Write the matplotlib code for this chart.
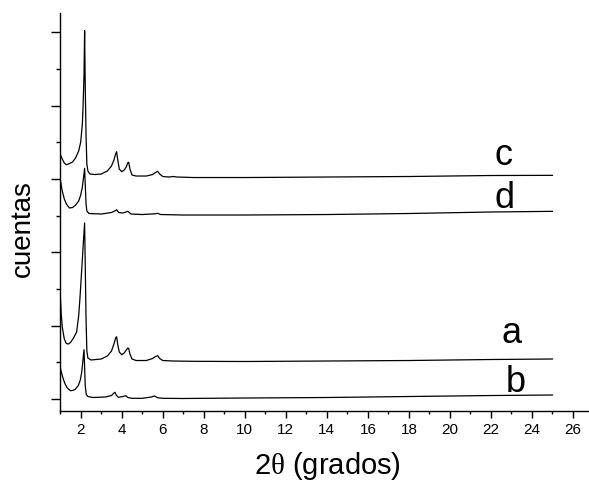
import matplotlib
matplotlib.use("Agg")
import matplotlib.pyplot as plt
from matplotlib.ticker import MultipleLocator, NullFormatter

plt.rcParams["font.family"] = ["Liberation Sans", "DejaVu Sans"]
plt.rcParams["mathtext.fontset"] = "custom"
plt.rcParams["mathtext.rm"] = "Liberation Serif"

# difractogramas (2theta, cuentas) con desplazamiento vertical
c_x = [1.0, 1.1, 1.2, 1.3, 1.45, 1.6, 1.75, 1.9, 2.0, 2.08, 2.11, 2.16, 2.19,
       2.22, 2.26, 2.3, 2.35, 2.45, 2.7, 3.0, 3.3, 3.5, 3.62, 3.7, 3.75, 3.8,
       3.88, 4.0, 4.12, 4.22, 4.3, 4.34, 4.4, 4.5, 4.7, 5.2, 5.5, 5.65, 5.75,
       5.85, 6.0, 6.3, 6.5, 6.7, 7.5, 10, 14, 18, 22, 25]
c_y = [6681, 6545, 6436, 6389, 6422, 6463, 6572, 6763, 7008, 7499, 7908, 8808, 10044,
       8544, 7181, 6408, 6218, 6136, 6122, 6136, 6218, 6354, 6518, 6681, 6744, 6545,
       6272, 6199, 6245, 6327, 6450, 6455, 6272, 6109, 6081, 6081, 6122, 6177, 6209,
       6136, 6068, 6054, 6068, 6054, 6040, 6040, 6054, 6068, 6095, 6100]

d_x = [1.0, 1.1, 1.2, 1.3, 1.45, 1.6, 1.75, 1.9, 2.0, 2.08, 2.14, 2.19, 2.22,
       2.26, 2.3, 2.4, 3.0, 3.5, 3.7, 3.75, 3.85, 4.05, 4.3, 4.45, 5.0, 5.6,
       5.75, 5.9, 7, 10, 14, 18, 22, 25]
d_y = [5999, 5672, 5454, 5318, 5209, 5222, 5290, 5399, 5563, 5781, 6054, 6291, 5863,
       5318, 5127, 5059, 5045, 5086, 5140, 5162, 5086, 5072, 5118, 5045, 5031, 5050,
       5063, 5031, 5018, 5018, 5031, 5059, 5100, 5118]

a_x = [1.0, 1.05, 1.1, 1.2, 1.3, 1.4, 1.5, 1.65, 1.8, 1.9, 1.96, 2.06, 2.13,
       2.19, 2.22, 2.26, 2.3, 2.35, 2.5, 3.0, 3.3, 3.5, 3.62, 3.7, 3.75, 3.8,
       3.88, 4.0, 4.12, 4.22, 4.3, 4.34, 4.4, 4.5, 4.7, 5.2, 5.5, 5.65, 5.75,
       5.85, 6.0, 6.5, 7.5, 10, 14, 18, 22, 25]
a_y = [2863, 2318, 1963, 1636, 1513, 1500, 1541, 1663, 1827, 2264, 2727, 3627, 4281,
       4800, 3681, 2182, 1309, 1118, 1064, 1091, 1173, 1309, 1500, 1663, 1699, 1500,
       1282, 1208, 1254, 1336, 1391, 1377, 1227, 1091, 1050, 1050, 1104, 1159, 1181,
       1104, 1050, 1036, 1028, 1023, 1036, 1050, 1077, 1091]

b_x = [1.0, 1.08, 1.15, 1.25, 1.35, 1.5, 1.6, 1.72, 1.88, 1.98, 2.05, 2.1, 2.16,
       2.19, 2.22, 2.27, 2.35, 2.6, 3.2, 3.5, 3.62, 3.67, 3.73, 3.83, 4.05, 4.2,
       4.3, 4.5, 5.0, 5.45, 5.6, 5.75, 6.0, 7.0, 10, 14, 18, 22, 25]
b_y = [864, 682, 545, 395, 300, 226, 232, 259, 363, 518, 736, 1009, 1344,
       873, 363, 123, 68, 41, 55, 95, 164, 183, 109, 46, 68, 90,
       41, 19, 19, 55, 82, 35, 19, 14, 27, 41, 68, 95, 109]

labels = ["c", "d", "a", "b"]
label_x = [22.6, 22.65, 23.0, 23.2]
label_y = [6409, 5236, 1554, 218]

fig = plt.figure(figsize=(5.89, 4.85), dpi=100)
ax = fig.add_axes([60.2 / 589, 73 / 485, 528.8 / 589, 398 / 485])

for xs, ys in [(c_x, c_y), (d_x, d_y), (a_x, a_y), (b_x, b_y)]:
    ax.plot(xs, ys, color="black", lw=0.9)

for lab, lx, ly in zip(labels, label_x, label_y):
    ax.text(lx, ly, lab, fontsize=26, ha="center", va="baseline")

ax.set_xlim(1, 26.78)
ax.set_ylim(-327, 10527)

ax.spines["top"].set_visible(False)
ax.spines["right"].set_visible(False)
ax.spines["left"].set_linewidth(1.0)
ax.spines["bottom"].set_linewidth(1.0)

ax.xaxis.set_major_locator(MultipleLocator(2))
ax.xaxis.set_minor_locator(MultipleLocator(1))
ax.yaxis.set_major_locator(MultipleLocator(2000))
ax.yaxis.set_minor_locator(MultipleLocator(1000))
ax.yaxis.set_major_formatter(NullFormatter())

ax.tick_params(axis="x", which="major", direction="out", length=5, width=1.0,
               labelsize=11, pad=3)
ax.tick_params(axis="x", which="minor", direction="out", length=2.5, width=1.0)
ax.tick_params(axis="y", which="major", direction="out", length=6.5, width=1.0)
ax.tick_params(axis="y", which="minor", direction="out", length=3, width=1.0)

fig.text(327 / 589, 1 - 466 / 485, r"2$\mathrm{\theta}$ (grados)",
         fontsize=21, ha="center", va="center")
fig.text(23 / 589, 1 - 229 / 485, "cuentas", fontsize=20, rotation=90,
         ha="center", va="center")

fig.savefig("out.png", dpi=100)
